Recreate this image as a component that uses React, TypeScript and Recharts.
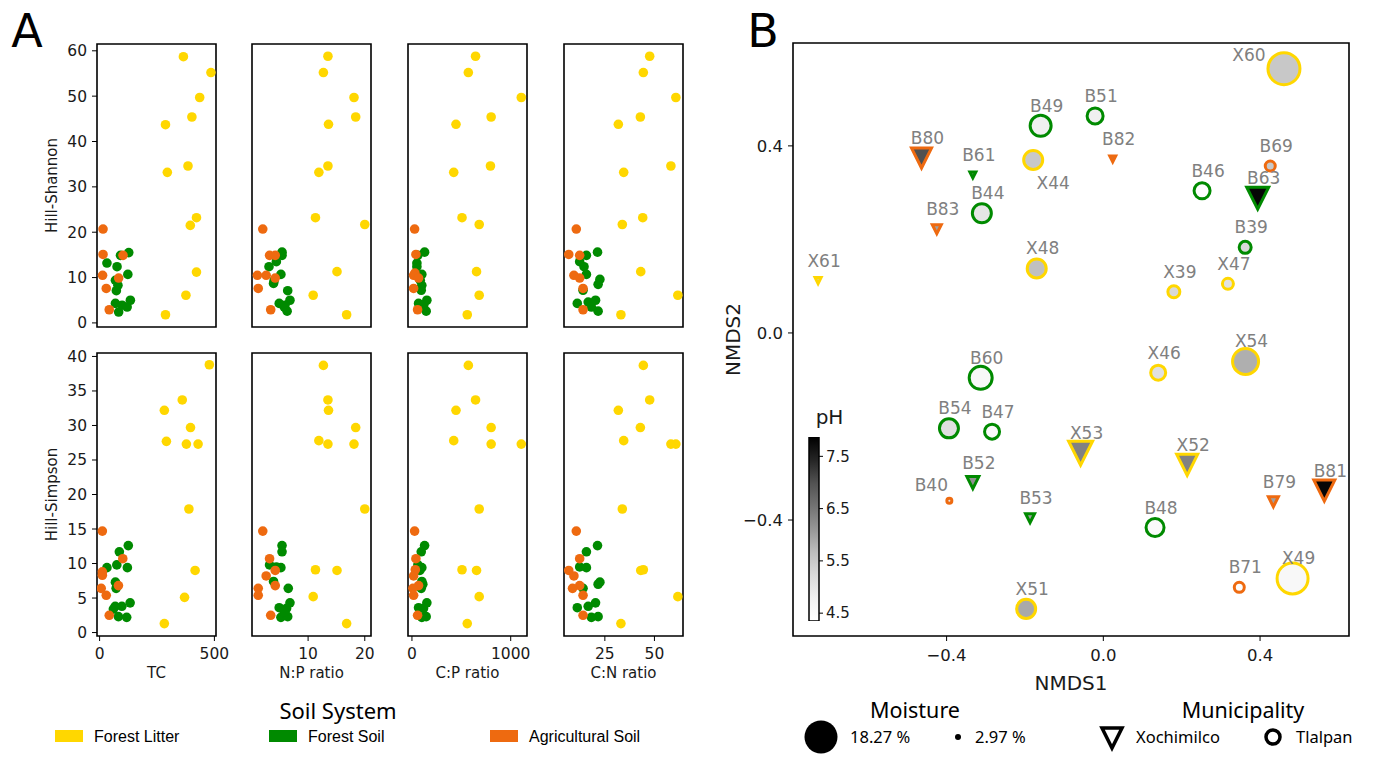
import { ScatterChart, Scatter, BarChart, Bar, XAxis, YAxis, ZAxis, ReferenceArea } from 'recharts';

type Grp = 'L' | 'F' | 'A';
type Pt = [number, number, Grp];

// ---- panel A: soil properties vs Hill numbers (x, y, soil system) ----
const tcShannon: Pt[] = [
  [365, 58.7, 'L'], [485, 55.2, 'L'], [436, 49.7, 'L'], [402, 45.4, 'L'], [287, 43.7, 'L'], [295, 33.2, 'L'],
  [385, 34.6, 'L'], [422, 23.2, 'L'], [395, 21.5, 'L'], [422, 11.2, 'L'], [376, 6.1, 'L'], [287, 1.8, 'L'],
  [127, 15.5, 'F'], [91, 14.9, 'F'], [32, 13.2, 'F'], [76, 12.4, 'F'], [123, 10.7, 'F'], [69, 9.4, 'F'],
  [80, 8.3, 'F'], [73, 7.1, 'F'], [69, 4.3, 'F'], [98, 3.9, 'F'], [134, 5.0, 'F'], [120, 3.5, 'F'], [83, 2.4, 'F'],
  [15, 20.7, 'A'], [15, 15.1, 'A'], [102, 14.9, 'A'], [13, 10.5, 'A'], [83, 9.9, 'A'], [29, 7.6, 'A'], [42, 2.9, 'A'],
];
const tcSimpson: Pt[] = [
  [478, 38.8, 'L'], [360, 33.7, 'L'], [282, 32.2, 'L'], [291, 27.7, 'L'], [396, 29.7, 'L'], [378, 27.3, 'L'],
  [429, 27.3, 'L'], [389, 17.9, 'L'], [416, 9.0, 'L'], [370, 5.1, 'L'], [282, 1.3, 'L'],
  [125, 12.6, 'F'], [86, 11.7, 'F'], [32, 9.4, 'F'], [75, 9.8, 'F'], [121, 9.4, 'F'], [69, 7.3, 'F'], [72, 6.4, 'F'],
  [68, 3.8, 'F'], [97, 3.8, 'F'], [133, 4.3, 'F'], [118, 2.2, 'F'], [82, 2.3, 'F'], [60, 3.4, 'F'],
  [12, 14.7, 'A'], [101, 10.7, 'A'], [12, 8.8, 'A'], [12, 8.3, 'A'], [7, 6.4, 'A'], [29, 5.4, 'A'], [82, 6.8, 'A'], [42, 2.5, 'A'],
];
const npShannon: Pt[] = [
  [13.5, 58.8, 'L'], [12.7, 55.2, 'L'], [18.1, 49.7, 'L'], [18.4, 45.4, 'L'], [13.6, 43.8, 'L'], [13.5, 34.6, 'L'],
  [11.9, 33.2, 'L'], [11.3, 23.2, 'L'], [20.0, 21.7, 'L'], [15.1, 11.3, 'L'], [10.9, 6.1, 'L'], [16.8, 1.8, 'L'],
  [5.4, 15.6, 'F'], [5.4, 14.9, 'F'], [4.4, 13.5, 'F'], [3.1, 12.4, 'F'], [5.2, 10.7, 'F'], [3.9, 8.7, 'F'], [4.0, 9.3, 'F'],
  [6.4, 7.1, 'F'], [6.8, 5.0, 'F'], [4.9, 4.3, 'F'], [5.8, 3.5, 'F'], [5.9, 3.9, 'F'], [6.3, 2.6, 'F'],
  [2.0, 20.7, 'A'], [3.2, 14.9, 'A'], [4.2, 14.9, 'A'], [1.05, 10.5, 'A'], [2.6, 10.5, 'A'], [4.2, 9.9, 'A'], [1.2, 7.6, 'A'], [3.4, 2.9, 'A'],
];
const npSimpson: Pt[] = [
  [12.7, 38.7, 'L'], [13.5, 33.7, 'L'], [13.6, 32.2, 'L'], [18.4, 29.7, 'L'], [11.9, 27.8, 'L'], [13.5, 27.3, 'L'],
  [18.1, 27.3, 'L'], [20.0, 17.9, 'L'], [11.3, 9.1, 'L'], [15.1, 9.0, 'L'], [10.9, 5.2, 'L'], [16.8, 1.3, 'L'],
  [5.4, 12.6, 'F'], [5.4, 11.7, 'F'], [3.2, 9.8, 'F'], [5.2, 9.4, 'F'], [4.4, 9.5, 'F'], [3.9, 7.4, 'F'], [6.5, 6.4, 'F'],
  [6.8, 4.3, 'F'], [4.9, 3.6, 'F'], [6.2, 3.5, 'F'], [5.2, 2.2, 'F'], [6.4, 2.3, 'F'], [5.8, 3.0, 'F'],
  [2.0, 14.7, 'A'], [3.2, 10.7, 'A'], [4.2, 9.0, 'A'], [2.6, 8.2, 'A'], [4.2, 6.8, 'A'], [1.2, 6.4, 'A'], [1.2, 5.4, 'A'], [3.4, 2.5, 'A'],
];
const cpShannon: Pt[] = [
  [644, 58.8, 'L'], [571, 55.2, 'L'], [1107, 49.7, 'L'], [802, 45.4, 'L'], [446, 43.8, 'L'], [795, 34.6, 'L'],
  [423, 33.2, 'L'], [507, 23.2, 'L'], [681, 21.7, 'L'], [654, 11.3, 'L'], [681, 6.1, 'L'], [560, 1.8, 'L'],
  [128, 15.6, 'F'], [60, 14.9, 'F'], [50, 13.2, 'F'], [50, 12.4, 'F'], [100, 10.7, 'F'], [84, 9.4, 'F'], [100, 8.3, 'F'],
  [94, 7.2, 'F'], [151, 5.0, 'F'], [67, 4.3, 'F'], [100, 3.5, 'F'], [144, 2.6, 'F'], [120, 4.0, 'F'],
  [27, 20.7, 'A'], [40, 15.1, 'A'], [30, 11.0, 'A'], [17, 10.5, 'A'], [67, 9.9, 'A'], [17, 7.6, 'A'], [57, 2.9, 'A'],
];
const cpSimpson: Pt[] = [
  [571, 38.7, 'L'], [644, 33.7, 'L'], [446, 32.2, 'L'], [802, 29.7, 'L'], [423, 27.8, 'L'], [802, 27.3, 'L'],
  [1107, 27.3, 'L'], [681, 17.9, 'L'], [507, 9.1, 'L'], [654, 9.0, 'L'], [681, 5.2, 'L'], [560, 1.3, 'L'],
  [128, 12.6, 'F'], [94, 11.7, 'F'], [60, 9.8, 'F'], [100, 9.4, 'F'], [80, 9.0, 'F'], [100, 7.4, 'F'], [110, 7.0, 'F'],
  [94, 6.4, 'F'], [151, 4.3, 'F'], [67, 3.6, 'F'], [117, 3.5, 'F'], [144, 2.3, 'F'], [100, 2.2, 'F'],
  [27, 14.7, 'A'], [40, 10.7, 'A'], [34, 9.1, 'A'], [17, 8.2, 'A'], [67, 6.8, 'A'], [10, 6.4, 'A'], [17, 5.4, 'A'], [57, 2.5, 'A'],
];
const cnShannon: Pt[] = [
  [47.6, 58.8, 'L'], [44.4, 55.2, 'L'], [60.8, 49.7, 'L'], [42.9, 45.4, 'L'], [31.8, 43.8, 'L'], [58.3, 34.6, 'L'],
  [34.5, 33.2, 'L'], [44.1, 23.2, 'L'], [33.8, 21.7, 'L'], [43.1, 11.3, 'L'], [61.8, 6.1, 'L'], [33.1, 1.8, 'L'],
  [21.3, 15.6, 'F'], [15.7, 14.9, 'F'], [12.3, 13.5, 'F'], [14.5, 12.4, 'F'], [15.7, 10.7, 'F'], [22.5, 9.6, 'F'],
  [21.6, 8.5, 'F'], [14.0, 7.2, 'F'], [11.1, 4.3, 'F'], [16.6, 4.6, 'F'], [20.3, 5.0, 'F'], [21.6, 2.6, 'F'], [18.2, 3.5, 'F'],
  [10.6, 20.7, 'A'], [6.8, 15.1, 'A'], [12.3, 14.9, 'A'], [9.4, 10.5, 'A'], [12.3, 9.9, 'A'], [14.0, 7.6, 'A'], [14.0, 2.9, 'A'],
];
const cnSimpson: Pt[] = [
  [44.4, 38.7, 'L'], [47.6, 33.7, 'L'], [31.8, 32.2, 'L'], [42.9, 29.7, 'L'], [34.5, 27.8, 'L'], [58.3, 27.3, 'L'],
  [60.8, 27.3, 'L'], [33.8, 17.9, 'L'], [43.1, 9.0, 'L'], [44.4, 9.1, 'L'], [61.8, 5.2, 'L'], [33.1, 1.3, 'L'],
  [21.3, 12.6, 'F'], [15.7, 11.7, 'F'], [12.3, 9.5, 'F'], [15.7, 9.4, 'F'], [22.5, 7.3, 'F'], [21.6, 7.0, 'F'],
  [14.0, 6.4, 'F'], [11.1, 3.6, 'F'], [16.6, 3.8, 'F'], [20.3, 4.3, 'F'], [21.6, 2.3, 'F'], [18.2, 2.2, 'F'],
  [10.6, 14.7, 'A'], [12.3, 10.7, 'A'], [6.8, 9.0, 'A'], [9.4, 8.2, 'A'], [12.3, 6.8, 'A'], [8.7, 6.4, 'A'], [14.0, 5.4, 'A'], [14.0, 2.5, 'A'],
];

const xLabels = ['TC', 'N:P ratio', 'C:P ratio', 'C:N ratio'];
const xTickVals = [[0, 500], [10, 20], [0, 1000], [25, 50]];
const yLabels = ['Hill-Shannon', 'Hill-Simpson'];
const yTickVals = [[0, 10, 20, 30, 40, 50, 60], [0, 5, 10, 15, 20, 25, 30, 35, 40]];

// ---- panel B: NMDS ordination ----
const sampleNames = ['B80', 'B61', 'B49', 'X44', 'B44', 'B83', 'X61', 'X48', 'B51', 'X60', 'B82', 'B69', 'B46', 'B63', 'B39', 'X39', 'X47',
  'B60', 'B54', 'B47', 'B52', 'B40', 'B53', 'X51', 'X53', 'X46', 'X54', 'X52', 'B48', 'B79', 'B81', 'B71', 'X49'];
const nmds1 = [-0.464, -0.333, -0.160, -0.179, -0.310, -0.425, -0.728, -0.170, -0.021, 0.461, 0.024, 0.426, 0.252, 0.394, 0.362, 0.180, 0.318,
  -0.313, -0.394, -0.284, -0.333, -0.393, -0.187, -0.197, -0.058, 0.140, 0.363, 0.214, 0.132, 0.434, 0.564, 0.347, 0.483];
const nmds2 = [0.374, 0.338, 0.443, 0.370, 0.256, 0.222, 0.112, 0.138, 0.464, 0.565, 0.372, 0.357, 0.304, 0.288, 0.183, 0.088, 0.105,
  -0.096, -0.204, -0.211, -0.320, -0.359, -0.396, -0.590, -0.257, -0.085, -0.061, -0.282, -0.416, -0.361, -0.337, -0.544, -0.525];
const moisture = [8.71, 3.14, 9.34, 8.12, 8.12, 3.83, 3.14, 8.12, 6.51, 18.27, 3.14, 4.12, 6.51, 10.0, 4.79, 4.79, 4.44,
  10.69, 8.12, 6.03, 4.79, 2.97, 3.83, 8.12, 11.41, 6.03, 12.94, 9.34, 7.55, 4.12, 9.34, 4.12, 17.3];
const phValues = [7.01, 6.1, 4.79, 5.5, 4.98, 6.0, 5.4, 5.62, 4.79, 5.5, 6.3, 5.5, 4.4, 7.8, 5.23, 5.23, 5.05,
  4.56, 5.09, 4.5, 6.18, 5.0, 6.0, 5.89, 6.38, 5.09, 5.83, 6.38, 4.5, 6.0, 7.8, 4.4, 4.56];
const soilSystem: Grp[] = ['A', 'F', 'F', 'L', 'F', 'A', 'L', 'L', 'F', 'L', 'A', 'A', 'F', 'F', 'F', 'L', 'L',
  'F', 'F', 'F', 'F', 'A', 'F', 'L', 'L', 'L', 'L', 'L', 'F', 'A', 'A', 'A', 'L'];
const municipality = ['X', 'X', 'T', 'T', 'T', 'X', 'X', 'T', 'T', 'T', 'X', 'T', 'T', 'X', 'T', 'T', 'T',
  'T', 'T', 'T', 'X', 'T', 'X', 'T', 'X', 'T', 'T', 'X', 'T', 'X', 'X', 'T', 'T'];

const SOIL_COLOR: Record<Grp, string> = { L: '#ffd700', F: '#008a00', A: '#ee6a10' };
const GROUPS: Grp[] = ['L', 'F', 'A'];
const FONT = 'DejaVu Sans, sans-serif';
const LEG_FONT = 'Noto Sans, sans-serif';

// matplotlib "Greys"
const greyStops = [1.0, 0.941, 0.851, 0.741, 0.588, 0.451, 0.322, 0.145, 0.0];
const PH_MIN = 4.35;
const PH_MAX = 7.87;
const greyAt = (t: number) => {
  const c = Math.max(0, Math.min(1, t)) * 8;
  const i = Math.min(7, Math.floor(c));
  const v = greyStops[i] + (greyStops[i + 1] - greyStops[i]) * (c - i);
  const g = Math.round(v * 255);
  return `rgb(${g},${g},${g})`;
};
const phColor = (ph: number) => greyAt((ph - PH_MIN) / (PH_MAX - PH_MIN));

const nmdsData = sampleNames.map((name, i) => ({
  name, x: nmds1[i], y: nmds2[i], z: moisture[i], ph: phValues[i], soil: soilSystem[i], muni: municipality[i],
}));

const labelNudge: Record<string, [number, number]> = { X44: [20, 23], X60: [-35, -14], B40: [-18, -16] };

const fmtSigned = (v: number) => (v < 0 ? '\u2212' : '') + Math.abs(v).toFixed(1);

const NmdsMarker = (props: any) => {
  const { cx, cy, width, payload } = props;
  const d = width;
  const stroke = SOIL_COLOR[payload.soil as Grp];
  const fill = phColor(payload.ph);
  if (payload.muni === 'X') {
    const h = d / 2;
    return (
      <path d={`M${cx - h},${cy - h}L${cx + h},${cy - h}L${cx},${cy + h}Z`}
        fill={fill} stroke={stroke} strokeWidth={3} strokeLinejoin="miter" />
    );
  }
  return <circle cx={cx} cy={cy} r={d / 2} fill={fill} stroke={stroke} strokeWidth={3} />;
};

const NmdsLabel = (props: any) => {
  const { cx, cy, payload } = props;
  const [dx, dy] = labelNudge[payload.name] ?? [6, -20];
  return (
    <text x={cx + dx} y={cy + dy} textAnchor="middle" dominantBaseline="central"
      fill="#808080" fontSize={17} fontFamily={FONT}>{payload.name}</text>
  );
};

const FRAME_LEFT = [97, 252, 408, 564];
const FRAME_W = 119;
const FRAME_TOP = [44, 353];
const FRAME_H = 283;
const xDomains: [number, number][] = [[-11.3, 507], [0.1, 21.1], [-40, 1165], [4.4, 64.4]];
const yDomains: [number, number][] = [[-0.9, 61.5], [-0.5, 40.5]];
const panelPts = [[tcShannon, npShannon, cpShannon, cnShannon], [tcSimpson, npSimpson, cpSimpson, cnSimpson]];

const tickStyle = { fontSize: 15.5, fill: '#1a1a1a', fontFamily: FONT };

function SmallPanel({ row, col }: { row: number; col: number }) {
  const first = col === 0;
  const bottom = row === 1;
  const yW = first ? 90 : 20;
  const xH = bottom ? 46 : 10;
  const padT = 10;
  const padR = 30;
  const xd = xDomains[col];
  const yd = yDomains[row];
  const pts = panelPts[row][col];
  return (
    <div style={{ position: 'absolute', left: FRAME_LEFT[col] - yW, top: FRAME_TOP[row] - padT }}>
      <ScatterChart width={yW + FRAME_W + padR} height={padT + FRAME_H + xH}
        margin={{ top: padT, right: padR, bottom: 0, left: 0 }}>
        <XAxis type="number" dataKey="x" domain={xd} ticks={xTickVals[col]} interval={0} allowDataOverflow
          height={xH} axisLine={false} tickSize={5} tickMargin={7} tickLine={{ stroke: '#000' }}
          tick={bottom ? tickStyle : false}
          label={bottom ? { value: xLabels[col], position: 'insideBottom', offset: 4, fontSize: 15, fill: '#1a1a1a', fontFamily: FONT } : undefined} />
        <YAxis type="number" dataKey="y" domain={yd} ticks={yTickVals[row]} interval={0} allowDataOverflow
          width={yW} axisLine={false} tickSize={5} tickMargin={5} tickLine={{ stroke: '#000' }}
          tick={first ? tickStyle : false}
          label={first ? { value: yLabels[row], angle: -90, position: 'center', fontSize: 15, fill: '#1a1a1a', fontFamily: FONT } : undefined} />
        {GROUPS.map((g) => (
          <Scatter key={g} isAnimationActive={false}
            data={pts.filter((p) => p[2] === g).map((p) => ({ x: p[0], y: p[1] }))}
            fill={SOIL_COLOR[g]}
            shape={(p: any) => <circle cx={p.cx} cy={p.cy} r={4.8} fill={SOIL_COLOR[g]} />} />
        ))}
        <ReferenceArea x1={xd[0]} x2={xd[1]} y1={yd[0]} y2={yd[1]} fill="none" stroke="#000" strokeWidth={1.6} ifOverflow="visible" />
      </ScatterChart>
    </div>
  );
}

const NMDS_X: [number, number] = [-0.792, 0.627];
const NMDS_Y: [number, number] = [-0.648, 0.62];

function NmdsPanel() {
  const yW = 120;
  return (
    <div style={{ position: 'absolute', left: 793 - yW, top: 33 }}>
      <ScatterChart width={yW + 556 + 10} height={10 + 593 + 60} margin={{ top: 10, right: 10, bottom: 0, left: 0 }}>
        <XAxis type="number" dataKey="x" domain={NMDS_X} ticks={[-0.4, 0, 0.4]} interval={0} allowDataOverflow
          height={60} axisLine={false} tickSize={5} tickMargin={8} tickLine={{ stroke: '#000' }}
          tickFormatter={fmtSigned} tick={{ fontSize: 16.5, fill: '#1a1a1a', fontFamily: FONT }}
          label={{ value: 'NMDS1', position: 'insideBottom', offset: 6, fontSize: 20, fill: '#1a1a1a', fontFamily: FONT }} />
        <YAxis type="number" dataKey="y" domain={NMDS_Y} ticks={[-0.4, 0, 0.4]} interval={0} allowDataOverflow
          width={yW} axisLine={false} tickSize={5} tickMargin={5} tickLine={{ stroke: '#000' }}
          tickFormatter={fmtSigned} tick={{ fontSize: 16.5, fill: '#1a1a1a', fontFamily: FONT }}
          label={{ value: 'NMDS2', angle: -90, position: 'center', fontSize: 20, fill: '#1a1a1a', fontFamily: FONT }} />
        <ZAxis type="number" dataKey="z" domain={[2.97, 18.27]} range={[19.6, 804]} />
        <Scatter data={nmdsData} isAnimationActive={false} shape={NmdsMarker} />
        <Scatter data={nmdsData} isAnimationActive={false} shape={NmdsLabel} />
        <ReferenceArea x1={NMDS_X[0]} x2={NMDS_X[1]} y1={NMDS_Y[0]} y2={NMDS_Y[1]} fill="none" stroke="#000" strokeWidth={1.6} ifOverflow="visible" />
      </ScatterChart>
    </div>
  );
}

const colorbarTicks = [4.5, 5.5, 6.5, 7.5];
const colorbarData = [{ name: 'pH', span: [PH_MIN, PH_MAX] }];

function PhColorbar() {
  return (
    <div style={{ position: 'absolute', left: 799, top: 401 }}>
      <BarChart width={81} height={230} data={colorbarData} barCategoryGap={0}
        margin={{ top: 36, right: 40, bottom: 10, left: 10 }}>
        <defs>
          <linearGradient id="greysBar" x1="0" y1="1" x2="0" y2="0">
            {greyStops.map((_, i) => (
              <stop key={i} offset={i / 8} stopColor={greyAt(i / 8)} />
            ))}
          </linearGradient>
        </defs>
        <XAxis dataKey="name" type="category" hide />
        <YAxis type="number" orientation="right" domain={[PH_MIN, PH_MAX]} ticks={colorbarTicks} interval={0}
          allowDataOverflow width={21} axisLine={false} tickSize={4} tickMargin={3} tickLine={{ stroke: '#000' }}
          tickFormatter={(v: number) => v.toFixed(1)} tick={{ fontSize: 15, fill: '#1a1a1a', fontFamily: FONT }}
          label={{ value: 'pH', position: 'top', offset: 13, fontSize: 20, fill: '#1a1a1a', fontFamily: FONT }} />
        <Bar dataKey="span" fill="url(#greysBar)" stroke="#000" strokeWidth={1.5} isAnimationActive={false} />
      </BarChart>
    </div>
  );
}

const soilLegend: { g: Grp; label: string; px: number }[] = [
  { g: 'L', label: 'Forest Litter', px: 55 },
  { g: 'F', label: 'Forest Soil', px: 269 },
  { g: 'A', label: 'Agricultural Soil', px: 490 },
];

function Overlay() {
  return (
    <svg width={1373} height={762} style={{ position: 'absolute', left: 0, top: 0, pointerEvents: 'none' }}>
      <text x={27} y={47} fontSize={46} textAnchor="middle" fontFamily={FONT} fill="#000">A</text>
      <text x={763} y={47} fontSize={46} textAnchor="middle" fontFamily={FONT} fill="#000">B</text>

      <text x={338} y={719} fontSize={22} textAnchor="middle" fontFamily={LEG_FONT} fill="#000">Soil System</text>
      {soilLegend.map((s) => (
        <g key={s.g}>
          <rect x={s.px} y={730} width={28} height={12} fill={SOIL_COLOR[s.g]} />
          <text x={s.px + 39} y={742} fontSize={16} fontFamily="Liberation Sans, Arial, sans-serif" fill="#000">{s.label}</text>
        </g>
      ))}

      <text x={915} y={718} fontSize={21.5} textAnchor="middle" fontFamily={LEG_FONT} fill="#000">Moisture</text>
      <circle cx={821} cy={737} r={16.5} fill="#000" />
      <text x={850} y={743} fontSize={16.5} fontFamily={LEG_FONT} fill="#000">18.27 %</text>
      <circle cx={958} cy={737} r={3} fill="#000" />
      <text x={975} y={743} fontSize={16.5} fontFamily={LEG_FONT} fill="#000">2.97 %</text>

      <text x={1243} y={718} fontSize={21.5} textAnchor="middle" fontFamily={LEG_FONT} fill="#000">Municipality</text>
      <path d="M1102,728L1122,728L1112,748Z" fill="#fff" stroke="#000" strokeWidth={3.5} strokeLinejoin="miter" />
      <text x={1136} y={743} fontSize={16.5} fontFamily={LEG_FONT} fill="#000">Xochimilco</text>
      <circle cx={1273} cy={737} r={7} fill="#fff" stroke="#000" strokeWidth={3.5} />
      <text x={1296} y={743} fontSize={16.5} fontFamily={LEG_FONT} fill="#000">Tlalpan</text>
    </svg>
  );
}

export default function App() {
  return (
    <div style={{ position: 'absolute', left: 0, top: 0, width: 1373, height: 762, background: '#fff', overflow: 'hidden' }}>
      {[0, 1].map((r) => [0, 1, 2, 3].map((c) => <SmallPanel key={`${r}-${c}`} row={r} col={c} />))}
      <NmdsPanel />
      <PhColorbar />
      <Overlay />
    </div>
  );
}
